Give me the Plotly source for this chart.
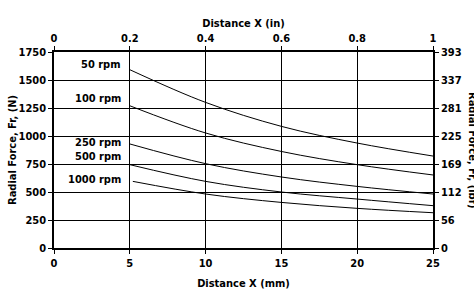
import plotly.graph_objects as go

# Data (Radial force in N vs distance X in mm)
x_mm = [5, 10, 15, 20, 25]
f_50 = [1592, 1300, 1086, 937, 821]
f_100 = [1270, 1027, 862, 744, 652]
f_250 = [929, 753, 634, 550, 482]
f_500 = [744, 595, 500, 437, 378]
x_1000 = [5.2, 10, 15, 20, 25]
f_1000 = [595, 482, 407, 354, 315]

series_labels = ["50 rpm", "100 rpm", "250 rpm", "500 rpm", "1000 rpm"]
label_y = [1637, 1333, 940, 815, 610]

x_ticks_mm = [0, 5, 10, 15, 20, 25]
x_ticks_in = [0, 0.2, 0.4, 0.6, 0.8, 1]
y_ticks_n = [0, 250, 500, 750, 1000, 1250, 1500, 1750]
y_ticks_lbf = ["0", "56", "112", "169", "225", "281", "337", "393"]

FONT = "DejaVu Sans Condensed, Liberation Sans, sans-serif"
FS = 11
fig = go.Figure()
for xs, ys in [(x_mm, f_50), (x_mm, f_100), (x_mm, f_250), (x_mm, f_500), (x_1000, f_1000)]:
    fig.add_trace(go.Scatter(x=xs, y=ys, mode="lines", line=dict(color="black", width=1, shape="spline"),
                             showlegend=False, hoverinfo="skip"))
# invisible trace for secondary axes
fig.add_trace(go.Scatter(x=[0, 1], y=[0, 1750], xaxis="x2", yaxis="y2", mode="markers",
                         marker=dict(opacity=0), showlegend=False, hoverinfo="skip"))

for lab, ly in zip(series_labels, label_y):
    fig.add_annotation(x=4.55, y=ly, text=f"<b>{lab}</b>", showarrow=False, xanchor="right",
                       yanchor="middle", font=dict(family=FONT, size=FS, color="black"))

fig.add_annotation(xref="paper", yref="paper", x=1.083, y=0.5, text="<b>Radial Force, Fr, (lbf)</b>",
                   textangle=90, showarrow=False, xanchor="left", yanchor="middle",
                   font=dict(family=FONT, size=FS, color="black"))

axis_common = dict(showline=True, linecolor="black", linewidth=1.5, ticks="outside", ticklen=4,
                   tickcolor="black", tickwidth=1.2, automargin=False,
                   tickfont=dict(family=FONT, size=FS, color="black"), zeroline=False)

fig.update_layout(
    width=474, height=291,
    margin=dict(l=54, r=41, t=52, b=43),
    plot_bgcolor="white", paper_bgcolor="white",
    xaxis=dict(range=[0, 25], tickvals=x_ticks_mm, ticktext=[f"<b>{v}</b>" for v in x_ticks_mm],
               showgrid=True, gridcolor="black", gridwidth=1.3,
               title=dict(text="<b>Distance X (mm)</b>", font=dict(family=FONT, size=FS, color="black"), standoff=10),
               **axis_common),
    xaxis2=dict(range=[0, 1], overlaying="x", side="top", tickvals=x_ticks_in,
                ticktext=[f"<b>{v}</b>" for v in x_ticks_in], showgrid=False,
                title=dict(text="<b>Distance X (in)</b>", font=dict(family=FONT, size=FS, color="black"), standoff=2),
                **axis_common),
    yaxis=dict(range=[0, 1750], tickvals=y_ticks_n, ticktext=[f"<b>{v}</b>" for v in y_ticks_n],
               showgrid=True, gridcolor="black", gridwidth=1.3,
               title=dict(text="<b>Radial Force, Fr, (N)</b>", font=dict(family=FONT, size=FS, color="black"), standoff=0),
               **axis_common),
    yaxis2=dict(range=[0, 1750], overlaying="y", side="right", tickvals=y_ticks_n,
                ticktext=[f"<b>{v}</b>" for v in y_ticks_lbf], showgrid=False, **axis_common),
)

fig.write_html("out.html", config={"displayModeBar": False},
               post_script="document.body.style.margin='0';document.body.style.overflow='hidden';")
